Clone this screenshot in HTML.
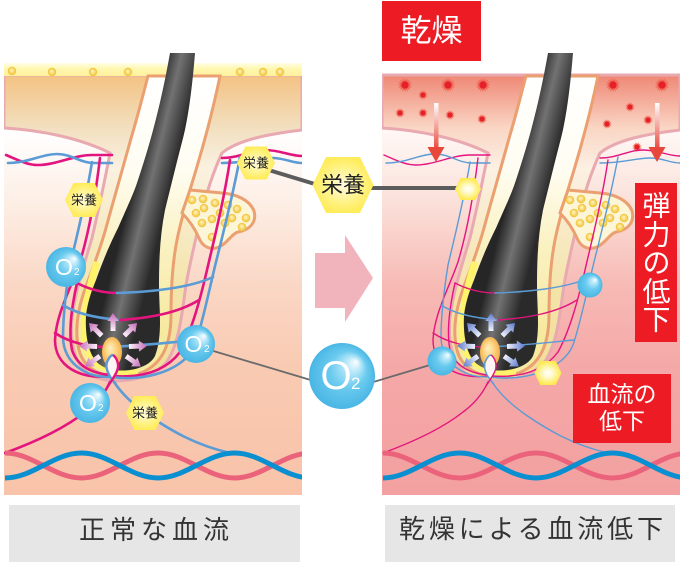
<!DOCTYPE html>
<html><head><meta charset="utf-8">
<style>
html,body{margin:0;padding:0;background:#fff;}
svg{display:block;}
text{font-family:"Liberation Sans","Noto Sans CJK JP",sans-serif;}
</style></head>
<body>
<svg width="682" height="563" viewBox="0 0 682 563" xmlns="http://www.w3.org/2000/svg">
<defs>
 <linearGradient id="dermL" x1="0" y1="75" x2="0" y2="495" gradientUnits="userSpaceOnUse">
  <stop offset="0.13" stop-color="#ffffff"/><stop offset="0.30" stop-color="#fdefe6"/>
  <stop offset="0.50" stop-color="#fad7c5"/><stop offset="0.70" stop-color="#f9cab2"/>
  <stop offset="1" stop-color="#f8c3a9"/>
 </linearGradient>
 <linearGradient id="dermR" x1="0" y1="75" x2="0" y2="495" gradientUnits="userSpaceOnUse">
  <stop offset="0.13" stop-color="#fff8f6"/><stop offset="0.30" stop-color="#fbe1da"/>
  <stop offset="0.50" stop-color="#f7bab5"/><stop offset="0.70" stop-color="#f4a8a7"/>
  <stop offset="1" stop-color="#f3a0a0"/>
 </linearGradient>
 <linearGradient id="cream" x1="0" y1="405" x2="0" y2="495" gradientUnits="userSpaceOnUse">
  <stop offset="0" stop-color="#faebcf"/><stop offset="1" stop-color="#f6d6ae"/>
 </linearGradient>
 <linearGradient id="skinL" x1="0" y1="75" x2="0" y2="385" gradientUnits="userSpaceOnUse">
  <stop offset="0" stop-color="#f4c283"/><stop offset="0.17" stop-color="#f2dfbf"/>
  <stop offset="0.30" stop-color="#faf1e0"/><stop offset="0.7" stop-color="#f4e3a8"/>
  <stop offset="1" stop-color="#f2dc98"/>
 </linearGradient>
 <linearGradient id="skinR" x1="0" y1="75" x2="0" y2="385" gradientUnits="userSpaceOnUse">
  <stop offset="0" stop-color="#ef8775"/><stop offset="0.17" stop-color="#fad5c4"/>
  <stop offset="0.30" stop-color="#fcf0e3"/><stop offset="0.7" stop-color="#f4e3a8"/>
  <stop offset="1" stop-color="#f2dc98"/>
 </linearGradient>
 <linearGradient id="canal" x1="0" y1="76" x2="0" y2="376" gradientUnits="userSpaceOnUse">
  <stop offset="0" stop-color="#ffffff"/><stop offset="0.31" stop-color="#fffdf2"/>
  <stop offset="0.55" stop-color="#fbf2c4"/><stop offset="0.85" stop-color="#f6e9a0"/>
 </linearGradient>
 <linearGradient id="shaft" x1="131" y1="191" x2="168" y2="200" gradientUnits="userSpaceOnUse">
  <stop offset="0" stop-color="#262626"/><stop offset="0.45" stop-color="#727272"/>
  <stop offset="1" stop-color="#2a2a2a"/>
 </linearGradient>
 <linearGradient id="band" x1="0" y1="63" x2="0" y2="77" gradientUnits="userSpaceOnUse">
  <stop offset="0" stop-color="#fffde8"/><stop offset="0.4" stop-color="#fff8b0"/>
  <stop offset="1" stop-color="#fff09a"/>
 </linearGradient>
 <radialGradient id="dot" cx="0.5" cy="0.5" r="0.5" fx="0.45" fy="0.4">
  <stop offset="0" stop-color="#fff8c8"/><stop offset="1" stop-color="#f1bf2c"/>
 </radialGradient>
 <radialGradient id="pap" cx="0.5" cy="0.5" r="0.55" fx="0.4" fy="0.35">
  <stop offset="0" stop-color="#fff0c4"/><stop offset="0.5" stop-color="#fcd27e"/>
  <stop offset="1" stop-color="#f3a948"/>
 </radialGradient>
 <radialGradient id="o2g" cx="0.5" cy="0.5" r="0.5" fx="0.72" fy="0.28">
  <stop offset="0" stop-color="#ffffff"/><stop offset="0.2" stop-color="#bfeafa"/>
  <stop offset="0.55" stop-color="#6bcbef"/><stop offset="1" stop-color="#4ab6e4"/>
 </radialGradient>
 <radialGradient id="hexg" cx="0.5" cy="0.5" r="0.5">
  <stop offset="0" stop-color="#fffbe0"/><stop offset="0.6" stop-color="#fff38a"/>
  <stop offset="1" stop-color="#ffec5a"/>
 </radialGradient>
 <radialGradient id="hexw" cx="0.5" cy="0.5" r="0.5">
  <stop offset="0" stop-color="#ffffff"/><stop offset="0.35" stop-color="#fffad0"/>
  <stop offset="1" stop-color="#ffe94a"/>
 </radialGradient>
 <linearGradient id="arL" x1="0" y1="-16" x2="0" y2="-34" gradientUnits="userSpaceOnUse">
  <stop offset="0" stop-color="#fdf3fb"/><stop offset="1" stop-color="#c46bb6"/>
 </linearGradient>
 <linearGradient id="arR" x1="0" y1="-16" x2="0" y2="-34" gradientUnits="userSpaceOnUse">
  <stop offset="0" stop-color="#f1f3fc"/><stop offset="1" stop-color="#5c78cc"/>
 </linearGradient>
 <linearGradient id="da" x1="0" y1="103" x2="0" y2="150" gradientUnits="userSpaceOnUse">
  <stop offset="0" stop-color="#ffffff"/><stop offset="1" stop-color="#e8473b"/>
 </linearGradient>
 <clipPath id="clipL"><rect x="4" y="0" width="298" height="495"/></clipPath>
 <clipPath id="clipR"><rect x="382" y="0" width="298" height="495"/></clipPath>

 <path id="skin" d="M4,75 L302,75 L302,130 C268,134 238,140 222,153 C212,175 207,192 202,212 C196,238 190,262 186,285 C182,312 180,340 168,360 C155,380 115,386 92,376 C74,366 70,342 72,318 C75,292 84,265 92,238 C98,212 104,185 110,153 C80,138 40,130 4,128 Z"/>
 <path id="cream" d="M4,408 C50,410 90,438 140,438 C190,438 240,410 302,408 L302,495 L4,495 Z"/>

 <g id="fol">
  <path d="M148,76 L220,76 C214,105 205,140 196,170 C190,190 182,215 177,240 C172,265 171,290 171,315 C171,345 162,370 130,376 C105,380 84,370 79,350 C74,330 78,310 84,292 C92,270 100,250 106,228 C115,195 125,160 132,135 C138,115 143,95 148,76 Z" fill="url(#canal)" stroke="#eaa070" stroke-width="3"/>
  <path d="M97,262 C88,290 82,320 86,345 C90,365 110,374 138,372" fill="none" stroke="#fff36b" stroke-width="7"/>
  <path d="M190,190 C200,191 212,192 222,193 C236,194 250,200 254,211 C257,222 250,230 238,232 C231,234 228,243 219,247 C210,251 202,246 199,238 C195,229 190,221 182,213 Z" fill="#fdf5d8" stroke="#eaa070" stroke-width="3"/>
  <g fill="url(#dot)">
   <circle cx="192" cy="200" r="4.3"/><circle cx="203" cy="199" r="4.3"/><circle cx="215" cy="203" r="4.3"/>
   <circle cx="228" cy="205" r="4.3"/><circle cx="237" cy="209" r="4.3"/><circle cx="204" cy="208" r="4.3"/>
   <circle cx="196" cy="213" r="4.3"/><circle cx="220" cy="213" r="4.3"/><circle cx="232" cy="218" r="4.3"/>
   <circle cx="246" cy="218" r="4.3"/><circle cx="212" cy="219" r="4.3"/><circle cx="202" cy="223" r="4.3"/>
   <circle cx="225" cy="223" r="4.3"/><circle cx="242" cy="227" r="4.3"/><circle cx="212" cy="237" r="4.3"/>
  </g>
  <path d="M170,53 L195,53 C192,90 188,120 182,142 C176,165 170,190 165,210 C160,235 159,260 159,285 C159,310 163,335 155,356 C147,372 112,375 99,364 C88,355 85,335 86,315 C88,300 92,290 96,280 C105,255 112,240 118,228 C128,205 133,195 137,183 C148,150 160,110 170,53 Z" fill="url(#shaft)"/>
 </g>

 <g id="ves" fill="none" stroke-linecap="round">
  <path stroke="#e4147f" d="M6,155 C18,160 27,165 38,165 C56,165 74,155 92,155 L112,155"/>
  <path stroke="#5b9bd6" d="M8,163 C28,163 42,154 57,154 C72,154 80,163 94,163 L112,163"/>
  <path stroke="#e4147f" d="M222,158 C240,158 250,150 265,150 C280,150 290,156 302,156"/>
  <path stroke="#5b9bd6" d="M222,163 C245,163 258,158 272,158 C285,158 292,163 302,163"/>
  <path stroke="#e4147f" d="M100,158 C95,200 88,235 80,262 C70,290 56,315 55,340 C55,365 78,380 112,376"/>
  <path stroke="#5b9bd6" d="M92,162 C86,200 76,240 70,265 C66,290 63,315 63,338 C64,362 84,378 112,377"/>
  <path stroke="#e4147f" d="M77,283 C72,305 68,330 72,350 C78,368 95,374 112,375"/>
  <path stroke="#e4147f" d="M230,160 C224,200 214,240 207,270 C200,300 192,330 180,352 C165,372 140,378 112,376"/>
  <path stroke="#5b9bd6" d="M240,157 C233,195 224,230 216,262 C208,295 202,325 195,345 C185,370 145,382 112,377"/>
  <path stroke="#e4147f" d="M77,283 C90,290 105,293 117,293"/>
  <path stroke="#5b9bd6" d="M117,293 C150,292 190,288 213,277"/>
  <path stroke="#5b9bd6" d="M63,305 C75,313 95,318 120,320"/>
  <path stroke="#e4147f" d="M120,320 C150,318 178,313 199,300"/>
  <path stroke="#e4147f" d="M55,333 C70,343 90,347 107,347"/>
  <path stroke="#5b9bd6" d="M107,347 C140,346 165,343 196,340"/>
  <path stroke="#e4147f" d="M110,382 C104,395 96,404 85,412 C65,428 35,442 5,453"/>
  <path stroke="#5b9bd6" d="M114,382 C122,394 135,406 148,415 C170,430 195,445 230,453"/>
 </g>

 <g id="papg">
  <ellipse cx="112" cy="352" rx="10" ry="15" fill="url(#pap)"/>
  <path d="M113,355 C106,362 105,372 112,378 C119,372 119,362 113,355 Z" fill="#fff4f4"/>
  <path d="M116,384 C108,376 104,366 108,360 C110,356 112,355 113,355" fill="none" stroke="#5b9bd6"/>
  <path d="M113,355 C116,357 120,364 117,371 C115,376 112,380 108,386" fill="none" stroke="#e4147f"/>
 </g>

 <g id="waves" fill="none" stroke-width="5">
  <path stroke="#ea637b" d="M5,453 C33,453 53.5,478 81.5,478 C109.5,478 130,453 158,453 C186,453 206.5,478 234.5,478 C262.5,478 283,453 311,453"/>
  <path stroke="#0a8fd0" d="M5,478 C33,478 53.5,453 81.5,453 C109.5,453 130,478 158,478 C186,478 206.5,453 234.5,453 C262.5,453 283,478 311,478"/>
 </g>

 <g id="burst">
  <circle r="0.72" fill="#f4806c" opacity="0.6"/>
  <polygon fill="#f05a48" points="1,0 0.323,0.134 0.707,0.707 0.134,0.323 0,1 -0.134,0.323 -0.707,0.707 -0.323,0.134 -1,0 -0.323,-0.134 -0.707,-0.707 -0.134,-0.323 0,-1 0.134,-0.323 0.707,-0.707 0.323,-0.134"/>
  <polygon fill="#f05a48" transform="rotate(22.5)" points="1,0 0.323,0.134 0.707,0.707 0.134,0.323 0,1 -0.134,0.323 -0.707,0.707 -0.323,0.134 -1,0 -0.323,-0.134 -0.707,-0.707 -0.134,-0.323 0,-1 0.134,-0.323 0.707,-0.707 0.323,-0.134"/>
  <circle r="0.48" fill="#e3202b"/>
 </g>

 <polygon id="arw" points="-2.5,-16 -2.5,-26 -5.5,-26 0,-34 5.5,-26 2.5,-26 2.5,-16"/>
</defs>

<rect width="682" height="563" fill="#fff"/>

<!-- LEFT PANEL -->
<g clip-path="url(#clipL)">
 <rect x="4" y="75" width="298" height="420" fill="url(#dermL)"/>
 <use href="#cream" fill="url(#cream)"/>
 <use href="#skin" fill="url(#skinL)" stroke="#e9a9b1" stroke-width="3"/>
 <rect x="4" y="63" width="298" height="13" fill="url(#band)"/>
 <g fill="url(#dot)">
  <circle cx="12" cy="71" r="4.2"/><circle cx="52" cy="72" r="4.2"/><circle cx="93" cy="72" r="4.2"/>
  <circle cx="128" cy="72" r="4.2"/><circle cx="240" cy="72" r="4.2"/><circle cx="263" cy="72" r="4.2"/>
  <circle cx="280" cy="72" r="4.2"/>
 </g>
 <use href="#fol"/>
 <use href="#ves" stroke-width="2.6"/>
 <use href="#papg" stroke-width="2.4"/>
 <g transform="translate(113,347)" fill="url(#arL)">
  <use href="#arw" transform="rotate(0)"/><use href="#arw" transform="rotate(-45)"/>
  <use href="#arw" transform="rotate(45)"/><use href="#arw" transform="rotate(-88)"/>
  <use href="#arw" transform="rotate(88)"/><use href="#arw" transform="rotate(-125)"/>
  <use href="#arw" transform="rotate(125)"/>
 </g>
 <use href="#waves"/>
</g>

<!-- RIGHT PANEL -->
<g clip-path="url(#clipR)">
 <rect x="382" y="75" width="298" height="420" fill="url(#dermR)"/>
 <use href="#cream" fill="url(#cream)" transform="translate(378,0)"/>
 <use href="#skin" fill="url(#skinR)" stroke="#e9a9b1" stroke-width="3" transform="translate(378,0)"/>
 <g>
  <use href="#burst" transform="translate(405,85) scale(7.5)"/>
  <use href="#burst" transform="translate(448,85) scale(7.5)"/>
  <use href="#burst" transform="translate(483,85) scale(7.5)"/>
  <use href="#burst" transform="translate(613,85) scale(7.5)"/>
  <use href="#burst" transform="translate(662,85) scale(7.5)"/>
  <use href="#burst" transform="translate(423,95) scale(5)"/>
  <use href="#burst" transform="translate(400,113) scale(5)"/>
  <use href="#burst" transform="translate(423,113) scale(5)"/>
  <use href="#burst" transform="translate(450,115) scale(5)"/>
  <use href="#burst" transform="translate(482,119) scale(5)"/>
  <use href="#burst" transform="translate(630,107) scale(5)"/>
  <use href="#burst" transform="translate(607,124) scale(5)"/>
  <use href="#burst" transform="translate(648,120) scale(5)"/>
  <use href="#burst" transform="translate(637,147) scale(5)"/>
 </g>
 <use href="#fol" transform="translate(378,0)"/>
 <use href="#ves" stroke-width="1.4" transform="translate(378,0)"/>
 <use href="#papg" stroke-width="1.4" transform="translate(378,0)"/>
 <g transform="translate(491,347)" fill="url(#arR)">
  <use href="#arw" transform="rotate(0)"/><use href="#arw" transform="rotate(-45)"/>
  <use href="#arw" transform="rotate(45)"/><use href="#arw" transform="rotate(-88)"/>
  <use href="#arw" transform="rotate(88)"/><use href="#arw" transform="rotate(-125)"/>
  <use href="#arw" transform="rotate(125)"/>
 </g>
 <use href="#waves" transform="translate(378,0)"/>
 <rect x="434" y="103" width="4.5" height="46" fill="url(#da)"/>
 <polygon points="427.5,147 444.5,147 436,162" fill="#e8473b"/>
 <rect x="655" y="103" width="4.5" height="46" fill="url(#da)"/>
 <polygon points="648.5,147 665.5,147 657,162" fill="#e8473b"/>
</g>

<!-- connector lines -->
<line x1="262" y1="168" x2="318" y2="185" stroke="#5c5c5c" stroke-width="4"/>
<line x1="370" y1="188" x2="462" y2="188" stroke="#5c5c5c" stroke-width="4"/>
<line x1="200" y1="347" x2="314" y2="381" stroke="#6a6a6a" stroke-width="1.8"/>
<line x1="370" y1="383" x2="440" y2="362" stroke="#6a6a6a" stroke-width="1.8"/>

<!-- middle arrow -->
<polygon points="315,253 345,253 345,235 373,278 345,322 345,308 315,308" fill="#f2b4bc"/>

<!-- hexagons -->
<polygon points="312.5,185 326,157 360,157 373.5,185 360,213 326,213" fill="url(#hexg)"/>
<text x="343" y="185" font-size="22" fill="#222" text-anchor="middle" dominant-baseline="central">栄養</text>
<polygon points="65,200 73.4,183 94.6,183 103,200 94.6,217 73.4,217" fill="url(#hexg)"/>
<text x="84" y="200" font-size="13" fill="#222" text-anchor="middle" dominant-baseline="central">栄養</text>
<polygon points="237,163 245.4,146.5 266.6,146.5 275,163 266.6,179.5 245.4,179.5" fill="url(#hexg)"/>
<text x="256" y="163" font-size="13" fill="#222" text-anchor="middle" dominant-baseline="central">栄養</text>
<polygon points="126,413 134.4,396 155.6,396 164,413 155.6,430 134.4,430" fill="url(#hexg)"/>
<text x="145" y="413" font-size="13" fill="#222" text-anchor="middle" dominant-baseline="central">栄養</text>
<polygon points="455,189 460.7,178 475.3,178 481,189 475.3,200 460.7,200" fill="url(#hexw)"/>
<polygon points="534.5,373 540.4,361 555.6,361 561.5,373 555.6,385 540.4,385" fill="url(#hexw)"/>

<!-- O2 circles -->
<g fill="#fff">
 <circle cx="66" cy="267" r="20" fill="url(#o2g)"/>
 <text x="64" y="275" font-size="23" text-anchor="middle">O</text><text x="74" y="275" font-size="10">2</text>
 <circle cx="196" cy="344" r="19" fill="url(#o2g)"/>
 <text x="193.5" y="352" font-size="23" text-anchor="middle">O</text><text x="204" y="352" font-size="10">2</text>
 <circle cx="90" cy="403" r="20" fill="url(#o2g)"/>
 <text x="88" y="411" font-size="23" text-anchor="middle">O</text><text x="98" y="411" font-size="10">2</text>
 <circle cx="342" cy="376" r="33" fill="url(#o2g)"/>
 <text x="336" y="389" font-size="40" text-anchor="middle">O</text><text x="351" y="389" font-size="17">2</text>
 <circle cx="590" cy="285" r="12.5" fill="url(#o2g)"/>
 <circle cx="442" cy="361" r="14.5" fill="url(#o2g)"/>
</g>

<!-- red labels -->
<rect x="382" y="1" width="99" height="60" fill="#ed1c24"/>
<text x="431.5" y="31" font-size="31" fill="#fff" text-anchor="middle" dominant-baseline="central">乾燥</text>
<rect x="635" y="183" width="42" height="159" fill="#ed1c24"/>
<g font-size="28" fill="#fff" text-anchor="middle" dominant-baseline="central">
 <text x="656.5" y="206">弾</text><text x="656.5" y="235">力</text><text x="656.5" y="263">の</text>
 <text x="656.5" y="292">低</text><text x="656.5" y="320">下</text>
</g>
<rect x="573" y="374" width="98" height="69" fill="#ed1c24"/>
<text x="622" y="394" font-size="23" fill="#fff" text-anchor="middle" dominant-baseline="central">血流の</text>
<text x="622" y="421" font-size="23" fill="#fff" text-anchor="middle" dominant-baseline="central">低下</text>

<!-- bottom captions -->
<rect x="9" y="505" width="291" height="57" fill="#e6e6e6"/>
<text x="79" y="530" font-size="26" fill="#333" dominant-baseline="central" textLength="150" lengthAdjust="spacing">正常な血流</text>
<rect x="385" y="505" width="290" height="57" fill="#e6e6e6"/>
<text x="399" y="529" font-size="26" fill="#333" dominant-baseline="central" textLength="264" lengthAdjust="spacing">乾燥による血流低下</text>
</svg>
</body></html>
